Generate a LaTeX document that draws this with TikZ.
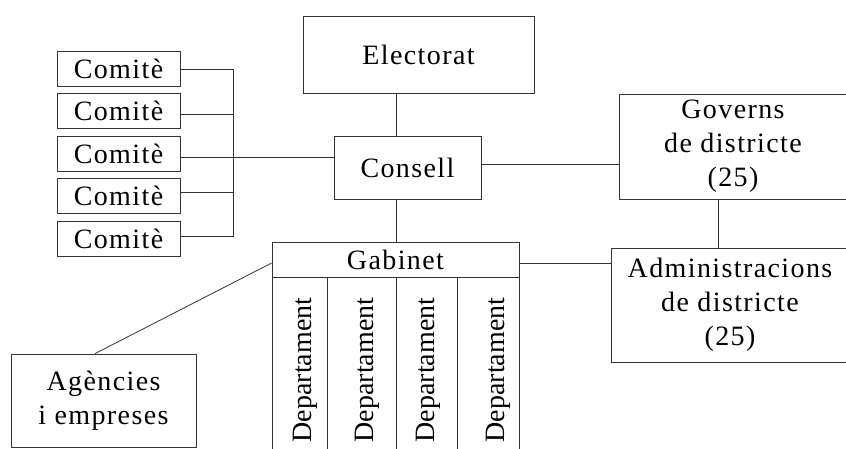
\documentclass[tikz,border=0pt]{standalone}
\usepackage{fontspec}
\setmainfont{Liberation Serif}[LetterSpace=5]
\newfontfamily\deptfont{Liberation Serif}
\begin{document}
\begin{tikzpicture}[x=1pt,y=-1pt,
  box/.style={draw=black!80, line width=0.8pt, rectangle, inner sep=0pt,
    font=\fontsize{28}{34}\selectfont, align=center},
  col/.style={draw=black!80, line width=0.8pt, rectangle, inner sep=0pt,
    minimum height=180pt},
  dept/.style={rotate=90, inner sep=0pt, font=\deptfont\fontsize{28}{34}\selectfont},
  conn/.style={draw=black!80, line width=0.8pt}]
\useasboundingbox (0,0) rectangle (846,448);
\clip (0,0) rectangle (846,448);
% boxes
\node[box, minimum width=231pt, minimum height=77pt] (electorat) at (418.5,54.5) {Electorat};
\node[box, minimum width=147pt, minimum height=63pt] (consell) at (407.5,167.5) {Consell};
\node[box, minimum width=123pt, minimum height=35pt] (c1) at (118.5,69) {Comitè};
\node[box, minimum width=123pt, minimum height=35pt] (c2) at (118.5,110.5) {Comitè};
\node[box, minimum width=123pt, minimum height=35pt] (c3) at (118.5,153.5) {Comitè};
\node[box, minimum width=123pt, minimum height=35pt] (c4) at (118.5,195.5) {Comitè};
\node[box, minimum width=123pt, minimum height=35pt] (c5) at (118.5,238.5) {Comitè};
\node[box, minimum width=228pt, minimum height=105pt] (gov) at (733,146.5) {Governs\\de districte\\(25)};
\node[box, minimum width=238pt, minimum height=114pt] (adm) at (730,305) {Administracions\\de districte\\(25)};
\node[box, minimum width=185pt, minimum height=93pt] (ag) at (103.5,400.5) {Agències\\i empreses};
\node[box, minimum width=247pt, minimum height=35pt] (gab) at (395.5,259.5) {Gabinet};
% department columns
\node[col, minimum width=55pt] (d1) at (299.5,367) {};
\node[col, minimum width=69pt] (d2) at (361.5,367) {};
\node[col, minimum width=61pt] (d3) at (426.5,367) {};
\node[col, minimum width=62pt] (d4) at (488,367) {};
\node[dept] (t1) at (305,370) {Departament};
\node[dept] (t2) at (367,370) {Departament};
\node[dept] (t3) at (428,370) {Departament};
\node[dept] (t4) at (498,370) {Departament};
% helper coordinates
\coordinate (bt) at (233,69);
\coordinate (bb) at (233,236);
\coordinate (m2) at (233,114);
\coordinate (m3) at (233,157);
\coordinate (m4) at (233,192);
\coordinate (v1) at (396,0);
\coordinate (v2) at (718,0);
\coordinate (h1) at (0,164);
\coordinate (h2) at (0,263);
\coordinate (a1) at (95,0);
% connectors
\draw[conn] (c1.east) -- (bt) -- (bb) -- (c5.east |- bb);
\draw[conn] (c2.east |- m2) -- (m2);
\draw[conn] (c4.east |- m4) -- (m4);
\draw[conn] (c3.east |- m3) -- (consell.west |- m3);
\draw[conn] (electorat.south -| v1) -- (consell.north -| v1);
\draw[conn] (consell.south -| v1) -- (gab.north -| v1);
\draw[conn] (consell.east |- h1) -- (gov.west |- h1);
\draw[conn] (gov.south -| v2) -- (adm.north -| v2);
\draw[conn] (gab.east |- h2) -- (adm.west |- h2);
\draw[conn] (ag.north -| a1) -- (gab.west |- h2);
\end{tikzpicture}
\end{document}
